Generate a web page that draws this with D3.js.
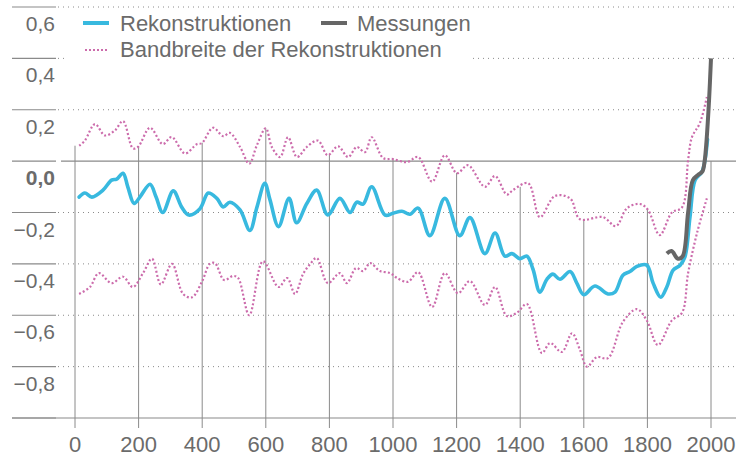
<!DOCTYPE html>
<html>
<head>
<meta charset="utf-8">
<script src="https://cdn.jsdelivr.net/npm/d3@7"></script>
<style>
  body { margin: 0; background: #fff; }
  text { font-family: "Liberation Sans", Arial, sans-serif; fill: #6b6b6b; }
</style>
</head>
<body>
<svg id="svg"></svg>
<script>
var width = 736, height = 459;

// Rekonstruktionen (year, anomaly)
var recon = [[13,-0.14],[31,-0.124],[53,-0.14],[88,-0.113],[115,-0.074],[131,-0.07],[151,-0.047],[166,-0.1],
	[186,-0.165],[204,-0.14],[236,-0.09],[255,-0.14],[276,-0.2],[309,-0.116],[336,-0.18],[358,-0.21],[393,-0.185],
	[419,-0.124],[446,-0.145],[466,-0.178],[487,-0.16],[519,-0.19],[550,-0.27],[572,-0.18],[597,-0.086],[613,-0.15],
	[640,-0.255],[673,-0.145],[697,-0.24],[729,-0.165],[760,-0.113],[795,-0.21],[833,-0.145],[865,-0.2],[886,-0.16],
	[906,-0.167],[933,-0.1],[975,-0.21],[1000,-0.203],[1028,-0.195],[1053,-0.207],[1079,-0.183],[1116,-0.29],
	[1163,-0.145],[1210,-0.29],[1242,-0.22],[1289,-0.36],[1321,-0.28],[1352,-0.37],[1374,-0.36],[1399,-0.38],
	[1421,-0.37],[1440,-0.42],[1462,-0.51],[1484,-0.46],[1503,-0.44],[1525,-0.46],[1557,-0.43],[1578,-0.475],
	[1600,-0.52],[1635,-0.486],[1676,-0.517],[1698,-0.51],[1723,-0.444],[1745,-0.43],[1767,-0.41],[1798,-0.405],
	[1818,-0.475],[1842,-0.53],[1861,-0.49],[1881,-0.424],[1903,-0.405],[1918,-0.373],[1934,-0.217],[1950,-0.074],
	[1972,-0.04],[1989,0.085]];

// Messungen
var measured = [[1861,-0.36],[1876,-0.35],[1896,-0.38],[1911,-0.37],[1928,-0.2],[1943,-0.074],[1959,-0.054],
	[1973,-0.04],[1980,0.0],[1986,0.08],[1994,0.24],[2000,0.4]];

// Bandbreite der Rekonstruktionen, obere Grenze
var bandUpper = [[13,0.06],[31,0.08],[63,0.144],[94,0.1],[126,0.12],[151,0.156],[182,0.05],[198,0.055],[236,0.13],
	[276,0.066],[304,0.094],[346,0.03],[383,0.066],[399,0.07],[434,0.13],[466,0.097],[487,0.11],[519,0.055],
	[548,-0.01],[572,0.062],[600,0.128],[619,0.055],[645,0.016],[670,0.093],[698,0.016],[729,0.055],[764,0.08],
	[795,0.023],[827,0.058],[859,0.016],[886,0.055],[912,0.035],[933,0.093],[969,0.012],[1000,0.008],[1044,-0.004],
	[1079,0.016],[1123,-0.08],[1163,0.023],[1201,-0.047],[1236,-0.016],[1289,-0.1],[1321,-0.058],[1358,-0.13],
	[1377,-0.113],[1425,-0.086],[1462,-0.218],[1509,-0.136],[1557,-0.145],[1588,-0.226],[1660,-0.218],[1701,-0.253],
	[1736,-0.183],[1777,-0.167],[1802,-0.19],[1839,-0.288],[1877,-0.2],[1909,-0.18],[1928,0.004],[1940,0.093],
	[1965,0.148],[1987,0.25]];

// untere Grenze
var bandLower = [[13,-0.517],[47,-0.49],[75,-0.436],[115,-0.475],[151,-0.45],[182,-0.49],[214,-0.436],[242,-0.38],
	[270,-0.48],[305,-0.40],[340,-0.517],[368,-0.53],[399,-0.47],[424,-0.40],[440,-0.397],[469,-0.463],[497,-0.447],
	[513,-0.455],[548,-0.6],[591,-0.39],[640,-0.49],[667,-0.455],[692,-0.517],[717,-0.44],[740,-0.40],[760,-0.377],
	[795,-0.475],[833,-0.436],[855,-0.475],[884,-0.416],[906,-0.428],[928,-0.397],[959,-0.428],[991,-0.436],
	[1013,-0.455],[1047,-0.47],[1079,-0.432],[1123,-0.568],[1163,-0.436],[1204,-0.514],[1242,-0.467],[1289,-0.56],
	[1321,-0.49],[1358,-0.603],[1390,-0.59],[1421,-0.556],[1468,-0.747],[1494,-0.708],[1531,-0.743],[1563,-0.67],
	[1588,-0.735],[1610,-0.80],[1641,-0.763],[1676,-0.767],[1723,-0.626],[1767,-0.576],[1798,-0.62],[1833,-0.716],
	[1877,-0.62],[1909,-0.59],[1928,-0.436],[1956,-0.28],[1987,-0.145]];

var xTicks = [0, 200, 400, 600, 800, 1000, 1200, 1400, 1600, 1800, 2000];
var yTicks = [0.6, 0.4, 0.2, 0.0, -0.2, -0.4, -0.6, -0.8, -1.0];
var legendItems = ["Rekonstruktionen", "Messungen", "Bandbreite der Rekonstruktionen"];

var blue = "#38b9df", grey = "#666666", pink = "#cc6cac", gridColor = "#8a8a8a";

var svg = d3.select("#svg")
	.attr("width", width)
	.attr("height", height);

var x = d3.scaleLinear()
	.domain([0, 2000])
	.range([75, 711]);

var y = d3.scaleLinear()
	.domain([-1.0, 0.6])
	.range([418, 7]);

var fmt = function(d) {
	var s = d3.format(".1f")(Math.abs(d)).replace(".", ",");
	return (d < -0.0001 ? "\u2212" : "") + s;
};

// horizontal grid
yTicks.forEach(function(t) {
	var isZero = Math.abs(t) < 1e-9;
	svg.append("line")
		.attr("x1", 12).attr("x2", 56)
		.attr("y1", y(t)).attr("y2", y(t))
		.attr("stroke", gridColor).attr("stroke-width", 1.2);
	if (t === -1.0) return;
	svg.append("line")
		.attr("x1", isZero ? 61 : 58).attr("x2", width)
		.attr("y1", y(t)).attr("y2", y(t))
		.attr("stroke", gridColor)
		.attr("stroke-width", isZero ? 1.2 : 1)
		.attr("stroke-dasharray", isZero ? null : "1,4");
	svg.append("text")
		.attr("x", 55)
		.attr("y", y(t) + 24)
		.attr("text-anchor", "end")
		.attr("font-size", "21px")
		.attr("font-weight", isZero ? "bold" : "normal")
		.text(fmt(t));
});

// x axis baseline
svg.append("line")
	.attr("x1", 12).attr("x2", width)
	.attr("y1", y(-1.0)).attr("y2", y(-1.0))
	.attr("stroke", gridColor).attr("stroke-width", 1.2);

// vertical drop lines from the upper band down to the axis
function bandAt(year) {
	if (year > bandUpper[bandUpper.length - 1][0]) return 0;
	if (year <= bandUpper[0][0]) return bandUpper[0][1];
	var i = d3.bisector(function(d) { return d[0]; }).left(bandUpper, year);
	var a = bandUpper[i - 1], b = bandUpper[i];
	return a[1] + (b[1] - a[1]) * (year - a[0]) / (b[0] - a[0]);
}

svg.selectAll(".vline")
	.data(xTicks)
	.enter()
	.append("line")
	.attr("class", "vline")
	.attr("x1", function(d) { return x(d); })
	.attr("x2", function(d) { return x(d); })
	.attr("y1", function(d) { return y(bandAt(d)); })
	.attr("y2", y(-1.0) + 10)
	.attr("stroke", gridColor)
	.attr("stroke-width", 1);

svg.selectAll(".xlabel")
	.data(xTicks)
	.enter()
	.append("text")
	.attr("class", "xlabel")
	.attr("x", function(d) { return x(d); })
	.attr("y", 452)
	.attr("text-anchor", "middle")
	.attr("font-size", "22px")
	.text(function(d) { return d; });

var line = d3.line()
	.x(function(d) { return x(d[0]); })
	.y(function(d) { return y(d[1]); })
	.curve(d3.curveCatmullRom.alpha(0.5));

[bandUpper, bandLower].forEach(function(band) {
	svg.append("path")
		.attr("fill", "none")
		.attr("stroke", pink)
		.attr("stroke-width", 2.2)
		.attr("stroke-dasharray", "2,2.2")
		.attr("d", line(band));
});

svg.append("path")
	.attr("fill", "none")
	.attr("stroke", blue)
	.attr("stroke-width", 3.6)
	.attr("stroke-linejoin", "round")
	.attr("stroke-linecap", "round")
	.attr("d", line(recon));

svg.append("path")
	.attr("fill", "none")
	.attr("stroke", grey)
	.attr("stroke-width", 4)
	.attr("stroke-linejoin", "round")
	.attr("d", line(measured));

// legend
var legend = svg.append("g").attr("class", "legend");

legend.append("rect")
	.attr("x", 67).attr("y", 11)
	.attr("width", 405).attr("height", 55)
	.attr("fill", "#fff");

var legendPos = [[83, 23, blue], [321, 23, grey], [85, 50, pink]];

legend.selectAll(".swatch")
	.data(legendItems)
	.enter()
	.append("line")
	.attr("class", "swatch")
	.attr("x1", function(d, i) { return legendPos[i][0]; })
	.attr("x2", function(d, i) { return legendPos[i][0] + (i === 2 ? 24 : 26); })
	.attr("y1", function(d, i) { return legendPos[i][1]; })
	.attr("y2", function(d, i) { return legendPos[i][1]; })
	.attr("stroke", function(d, i) { return legendPos[i][2]; })
	.attr("stroke-width", function(d, i) { return i === 2 ? 2.2 : 4; })
	.attr("stroke-dasharray", function(d, i) { return i === 2 ? "2,2" : null; });

legend.selectAll(".ltext")
	.data(legendItems)
	.enter()
	.append("text")
	.attr("class", "ltext")
	.attr("x", function(d, i) { return i === 1 ? 357 : 120; })
	.attr("y", function(d, i) { return i === 2 ? 57 : 31; })
	.attr("font-size", "22px")
	.text(function(d) { return d; });
</script>
</body>
</html>
